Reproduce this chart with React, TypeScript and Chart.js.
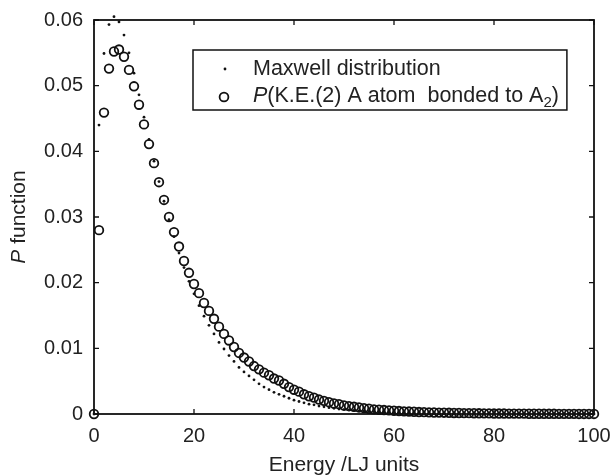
import React, { useEffect, useRef } from "react";
import { Chart, registerables } from "chart.js";

Chart.register(...registerables);

const energy: number[] = Array.from({ length: 101 }, (_, i) => i);

const maxwell: number[] = [
  0, 0.044, 0.0549, 0.0593, 0.0605, 0.0597, 0.0577, 0.055, 0.0519, 0.0486,
  0.0452, 0.0418, 0.0385, 0.0354, 0.0324, 0.0296, 0.027, 0.0245, 0.0223, 0.0202,
  0.0183, 0.0165, 0.0149, 0.0135, 0.0122, 0.0109, 0.0099, 0.0089, 0.008, 0.0071,
  0.0064, 0.0058, 0.0052, 0.0046, 0.0041, 0.0037, 0.0033, 0.003, 0.0027, 0.0024,
  0.0021, 0.0019, 0.0017, 0.0015, 0.0014, 0.0012, 0.0011, 0.00096, 0.00086, 0.00076,
  0.00068, 0.00061, 0.00054, 0.00048, 0.00043, 0.00038, 0.00034, 0.0003, 0.00027, 0.00024,
  0.00021, 0.00019, 0.00017, 0.00015, 0.00013, 0.00012, 0.0001, 0.00009, 0.00008, 0.00007,
  0.00006, 0.00005, 0.00005, 0.00004, 0.00004, 0.00003, 0.00003, 0.00003, 0.00002, 0.00002,
  0.00002, 0.00001, 0.00001, 0.00001, 0.00001, 0.00001, 0.00001, 0.00001, 0.00001, 0.00001,
  0.00001, 0, 0, 0, 0, 0, 0, 0, 0, 0, 0,
];

const bondedA: number[] = [
  0, 0.028, 0.0459, 0.0526, 0.0552, 0.0555, 0.0544, 0.0524, 0.0499, 0.0471,
  0.0441, 0.0411, 0.0382, 0.0353, 0.0326, 0.03, 0.0277, 0.0255, 0.0233, 0.0215,
  0.0198, 0.0184, 0.0169, 0.0157, 0.0145, 0.0133, 0.0122, 0.0112, 0.0102, 0.0093,
  0.0086, 0.008, 0.0073, 0.0068, 0.0063, 0.0059, 0.0054, 0.0051, 0.0046, 0.0041,
  0.0037, 0.0034, 0.003, 0.0027, 0.0025, 0.0022, 0.002, 0.0018, 0.0016, 0.0015,
  0.0013, 0.0012, 0.0011, 0.001, 0.0009, 0.0008, 0.0007, 0.00065, 0.0006, 0.00055,
  0.0005, 0.00045, 0.0004, 0.00037, 0.00034, 0.0003, 0.00028, 0.00025, 0.00023, 0.00021,
  0.0002, 0.00018, 0.00016, 0.00015, 0.00014, 0.00013, 0.00012, 0.00011, 0.0001, 0.00009,
  0.00008, 0.00007, 0.00007, 0.00006, 0.00006, 0.00005, 0.00005, 0.00004, 0.00004, 0.00004,
  0.00003, 0.00003, 0.00003, 0.00002, 0.00002, 0.00002, 0.00002, 0.00001, 0.00001, 0.00001,
  0.00001,
];

const xTicks: number[] = [0, 20, 40, 60, 80, 100];
const yTicks: number[] = [0, 0.01, 0.02, 0.03, 0.04, 0.05, 0.06];

const FONT = "'Liberation Sans', Arial, Helvetica, sans-serif";
const TICK_FS = 20;
const TITLE_FS = 21;
const LEG_FS = 21.5;

const framePlugin = {
  id: "frame",
  beforeDatasetsDraw(chart: any) {
    const { ctx, chartArea } = chart;
    const { left, right, top, bottom } = chartArea;
    const xs = chart.scales.x;
    const ys = chart.scales.y;
    ctx.save();
    ctx.strokeStyle = "#111";
    ctx.lineWidth = 1.8;
    ctx.strokeRect(left, top, right - left, bottom - top);
    ctx.lineWidth = 1.3;
    const tl = 5;
    ctx.beginPath();
    xTicks.forEach((v) => {
      const px = xs.getPixelForValue(v);
      ctx.moveTo(px, bottom);
      ctx.lineTo(px, bottom - tl);
      ctx.moveTo(px, top);
      ctx.lineTo(px, top + tl);
    });
    yTicks.forEach((v) => {
      const py = ys.getPixelForValue(v);
      ctx.moveTo(left, py);
      ctx.lineTo(left + tl, py);
      ctx.moveTo(right, py);
      ctx.lineTo(right - tl, py);
    });
    ctx.stroke();

    // axis titles
    ctx.fillStyle = "#222";
    ctx.textBaseline = "middle";
    ctx.font = `${TITLE_FS}px ${FONT}`;
    ctx.textAlign = "center";
    ctx.fillText("Energy /LJ units", (left + right) / 2, 465);

    ctx.save();
    ctx.translate(19, (top + bottom) / 2);
    ctx.rotate(-Math.PI / 2);
    ctx.font = `italic ${TITLE_FS}px ${FONT}`;
    const pW = ctx.measureText("P").width;
    ctx.font = `${TITLE_FS}px ${FONT}`;
    const restW = ctx.measureText(" function").width;
    const total = pW + restW;
    ctx.textAlign = "left";
    ctx.font = `italic ${TITLE_FS}px ${FONT}`;
    ctx.fillText("P", -total / 2, 0);
    ctx.font = `${TITLE_FS}px ${FONT}`;
    ctx.fillText(" function", -total / 2 + pW, 0);
    ctx.restore();
    ctx.restore();
  },
  afterDraw(chart: any) {
    const { ctx } = chart;
    ctx.save();
    const tx = 253;
    const y1 = 74.5;
    const y2 = 101.5;
    // measure line 2 to size the box
    ctx.font = `italic ${LEG_FS}px ${FONT}`;
    const wP = ctx.measureText("P").width;
    ctx.font = `${LEG_FS}px ${FONT}`;
    const mid = "(K.E.(2) A atom  bonded to A";
    const wMid = ctx.measureText(mid).width;
    const wParen = ctx.measureText(")").width;
    const subFs = Math.round(LEG_FS * 0.7);
    ctx.font = `${subFs}px ${FONT}`;
    const wSub = ctx.measureText("2").width;
    const endX = tx + wP + wMid + wSub + wParen;

    const bx = 193, by = 50;
    const bw = endX + 8 - bx;
    const bh = 60;
    ctx.fillStyle = "#fff";
    ctx.fillRect(bx, by, bw, bh);
    ctx.strokeStyle = "#111";
    ctx.lineWidth = 1.5;
    ctx.strokeRect(bx, by, bw, bh);

    // markers
    ctx.fillStyle = "#111";
    ctx.beginPath();
    ctx.arc(225, 69, 1.4, 0, Math.PI * 2);
    ctx.fill();
    ctx.beginPath();
    ctx.arc(224, 97, 4.4, 0, Math.PI * 2);
    ctx.lineWidth = 1.8;
    ctx.stroke();

    ctx.fillStyle = "#222";
    ctx.textBaseline = "alphabetic";
    ctx.textAlign = "left";
    ctx.font = `${LEG_FS}px ${FONT}`;
    ctx.fillText("Maxwell distribution", tx, y1);

    let x = tx;
    ctx.font = `italic ${LEG_FS}px ${FONT}`;
    ctx.fillText("P", x, y2);
    x += wP;
    ctx.font = `${LEG_FS}px ${FONT}`;
    ctx.fillText(mid, x, y2);
    x += wMid;
    ctx.font = `${subFs}px ${FONT}`;
    ctx.fillText("2", x, y2 + 5);
    x += wSub;
    ctx.font = `${LEG_FS}px ${FONT}`;
    ctx.fillText(")", x, y2);
    ctx.restore();
  },
};

export default function App() {
  const ref = useRef<HTMLCanvasElement | null>(null);
  useEffect(() => {
    document.body.style.margin = "0";
    const canvas = ref.current;
    if (!canvas) return;
    const chart = new Chart(canvas, {
      type: "scatter",
      data: {
        datasets: [
          {
            label: "Maxwell distribution",
            data: energy.map((e, i) => ({ x: e, y: maxwell[i] })),
            pointRadius: 1.4,
            pointBackgroundColor: "#111",
            pointBorderWidth: 0,
            showLine: false,
            clip: false as any,
          },
          {
            label: "P(K.E.(2) A atom  bonded to A2)",
            data: energy.map((e, i) => ({ x: e, y: bondedA[i] })),
            pointRadius: 4.3,
            pointBackgroundColor: "rgba(0,0,0,0)",
            pointBorderColor: "#111",
            pointBorderWidth: 1.8,
            showLine: false,
            clip: false as any,
          },
        ],
      },
      options: {
        animation: false,
        responsive: false,
        maintainAspectRatio: false,
        layout: { padding: { left: 0, top: 20, right: 19, bottom: 0 } },
        plugins: {
          legend: { display: false },
          tooltip: { enabled: false },
        },
        scales: {
          x: {
            type: "linear",
            min: 0,
            max: 100,
            grid: { display: false, drawTicks: false },
            border: { display: false },
            afterFit: (s: any) => {
              s.height = 62;
              s.paddingLeft = 0;
              s.paddingRight = 0;
            },
            afterBuildTicks: (s: any) => {
              s.ticks = xTicks.map((v) => ({ value: v }));
            },
            ticks: {
              padding: 10,
              color: "#222",
              font: { family: FONT, size: TICK_FS },
              maxRotation: 0,
              autoSkip: false,
              callback: (v: any) => String(v),
            },
          },
          y: {
            type: "linear",
            min: 0,
            max: 0.06,
            grid: { display: false, drawTicks: false },
            border: { display: false },
            afterFit: (s: any) => {
              s.width = 94;
              s.paddingTop = 0;
              s.paddingBottom = 0;
            },
            afterBuildTicks: (s: any) => {
              s.ticks = yTicks.map((v) => ({ value: v }));
            },
            ticks: {
              padding: 11,
              color: "#222",
              font: { family: FONT, size: TICK_FS },
              autoSkip: false,
              callback: (v: any) => (v === 0 ? "0" : Number(v).toFixed(2)),
            },
          },
        },
      },
      plugins: [framePlugin],
    });
    return () => chart.destroy();
  }, []);
  return (
    <div style={{ width: 613, height: 476 }}>
      <canvas ref={ref} width={613} height={476} style={{ display: "block" }} />
    </div>
  );
}
